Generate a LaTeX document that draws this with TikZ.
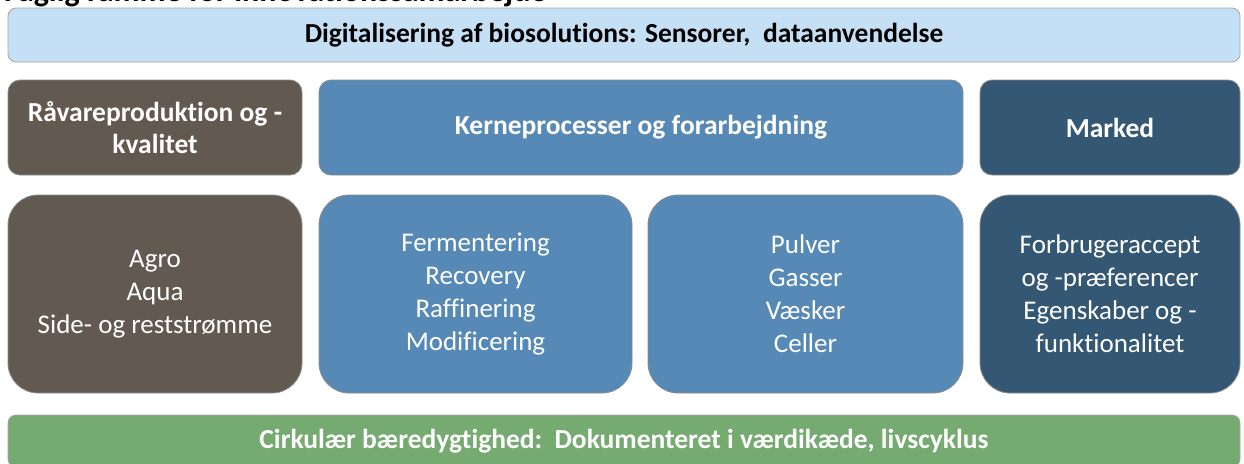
\documentclass[tikz,border=0pt]{standalone}
\usepackage{fontspec}
\setmainfont[Ligatures=NoCommon]{Carlito}
\usepackage{tikz}
\usepackage{xcolor}
\definecolor{lightblue}{HTML}{C5E0F5}
\definecolor{rawbrown}{HTML}{625A50}
\definecolor{midblue}{HTML}{5689B5}
\definecolor{darkblue}{HTML}{345774}
\definecolor{circgreen}{HTML}{75AA71}

\begin{document}
\begin{tikzpicture}[x=1pt,y=-1pt]
			\tikzstyle{every node}+=[inner sep=0pt,align=center]
			\tikzstyle{bar}=[draw=gray!70,line width=0.8pt,rounded corners=8pt,minimum width=1232pt,font=\fontsize{27.5}{30}\selectfont\bfseries]
			\tikzstyle{head}=[draw=black!45,line width=0.8pt,rounded corners=12pt,minimum height=95pt,text=white,font=\fontsize{27.5}{32}\selectfont\bfseries]
			\tikzstyle{item}=[draw=black!45,line width=0.8pt,rounded corners=30pt,minimum height=198pt,text=white,font=\fontsize{27}{33}\selectfont]
			\useasboundingbox (0,0) rectangle (1244,463);
			\node[anchor=base west,font=\fontsize{32}{34}\selectfont\bfseries] (title) at (4,1.5) {Faglig ramme for innovationssamarbejde};
			\node[bar,fill=lightblue,minimum height=54pt] (digi) at (624,35) {Digitalisering af biosolutions: Sensorer,\ \ dataanvendelse};
			\node[head,fill=rawbrown,minimum width=294pt] (raw) at (155,127.5) {Råvareproduktion og -\\kvalitet};
			\node[head,fill=midblue,minimum width=644pt] (kerne) at (641,127.5) {Kerneprocesser og forarbejdning};
			\node[head,fill=darkblue,minimum width=260pt] (marked) at (1110,127.5) {Marked};
			\node[item,fill=rawbrown,minimum width=294pt] (agro) at (155,294) {Agro\\Aqua\\Side- og reststrømme};
			\node[item,fill=midblue,minimum width=313pt] (proc) at (475.5,294) {Fermentering\\Recovery\\Raffinering\\Modificering};
			\node[item,fill=midblue,minimum width=315pt] (form) at (805.5,294) {Pulver\\Gasser\\Væsker\\Celler};
			\node[item,fill=darkblue,minimum width=260pt] (forbr) at (1110,294) {Forbrugeraccept\\og -præferencer\\Egenskaber og -\\funktionalitet};
			\node[bar,fill=circgreen,minimum height=52pt,text=white] (cirk) at (624,441) {Cirkulær bæredygtighed:\ \ Dokumenteret i værdikæde, livscyklus};
		\end{tikzpicture}
\end{document}
